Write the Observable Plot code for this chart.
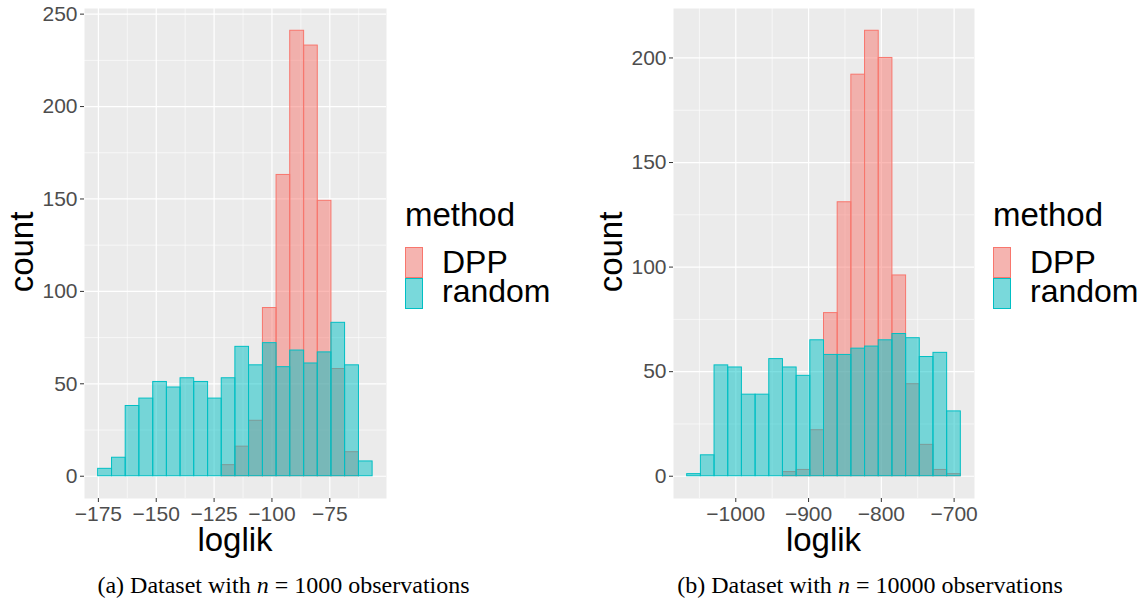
<!DOCTYPE html>
<html><head><meta charset="utf-8">
<script src="https://cdn.jsdelivr.net/npm/d3@7"></script>
<script src="https://cdn.jsdelivr.net/npm/@observablehq/plot@0.6"></script>
<style>
html,body{margin:0;padding:0;background:#fff;}
#page{position:relative;width:1148px;height:599px;overflow:hidden;font-family:"Liberation Sans",Arial,sans-serif;}
.panel{position:absolute;top:0;}
#overlay{position:absolute;left:0;top:0;}
</style></head><body><div id="page"></div>
<script>
const methods = ["DPP", "random"];
const colors = ["#F8766D", "#00BFC4"];

// (a) Dataset with n = 1000 observations
const binEdgesA = [-175.1, -169.1, -163.2, -157.3, -151.3, -145.4, -139.5, -133.6, -127.6, -121.7, -115.8, -109.9, -103.9, -98.0, -92.1, -86.1, -80.2, -74.3, -68.4, -62.4, -56.5];
const dppA = [0, 0, 0, 0, 0, 0, 0, 0, 0, 6, 16, 30, 91, 163, 241, 233, 149, 58, 13, 0];
const randomA = [4, 10, 38, 42, 51, 48, 53, 51, 42, 53, 70, 60, 72, 59, 68, 61, 67, 83, 60, 8];
const xTicksA = [-175, -150, -125, -100, -75];
const xMinorA = [-162.5, -137.5, -112.5, -87.5, -62.5];
const yTicksA = [0, 50, 100, 150, 200, 250];
const yMinorA = [25, 75, 125, 175, 225];

// (b) Dataset with n = 10000 observations
const binEdgesB = [-1066.8, -1048.0, -1029.2, -1010.4, -991.6, -972.8, -954.0, -935.2, -916.4, -897.6, -878.8, -860.0, -841.2, -822.4, -803.6, -784.8, -766.0, -747.2, -728.4, -709.6, -690.8];
const dppB = [0, 0, 0, 0, 0, 0, 0, 2, 3, 22, 78, 131, 192, 213, 200, 96, 44, 15, 3, 1];
const randomB = [1, 10, 53, 52, 39, 39, 56, 52, 48, 65, 58, 58, 61, 62, 65, 68, 66, 57, 59, 31];
const xTicksB = [-1000, -900, -800, -700];
const xMinorB = [-1050, -950, -850, -750];
const yTicksB = [0, 50, 100, 150, 200];
const yMinorB = [25, 75, 125, 175];

const captionsText = ["Dataset with", "observations"];
const xTitle = "loglik", yTitle = "count", legendTitle = "method";

const page = document.getElementById("page");
const fmt = d => d < 0 ? "\u2212" + Math.abs(d) : String(d);

function histogram(cfg) {
  const rows = (counts, m) => counts.map((c, i) => ({method: m, x1: cfg.edges[i], x2: cfg.edges[i + 1], base: 0, count: c})).filter(d => d.count > 0);
  const barOpts = (k) => ({x1: "x1", x2: "x2", y1: "base", y2: "count", fill: colors[k], fillOpacity: 0.5, stroke: colors[k], strokeWidth: 1, inset: 0});
  const plot = Plot.plot({
    width: 390, height: 530,
    marginTop: 8, marginBottom: 32, marginLeft: cfg.marginLeft, marginRight: cfg.marginRight,
    x: {domain: cfg.xDomain, label: null},
    y: {domain: cfg.yDomain, label: null},
    style: {background: "transparent", fontFamily: "'Liberation Sans', Arial, sans-serif", fontSize: "21px", color: "#4D4D4D", overflow: "visible"},
    marks: [
      Plot.frame({fill: "#EBEBEB", stroke: null}),
      Plot.ruleX(cfg.xMinor, {stroke: "#FFFFFF", strokeWidth: 0.6}),
      Plot.ruleY(cfg.yMinor, {stroke: "#FFFFFF", strokeWidth: 0.6}),
      Plot.ruleX(cfg.xTicks, {stroke: "#FFFFFF", strokeWidth: 1.2}),
      Plot.ruleY(cfg.yTicks, {stroke: "#FFFFFF", strokeWidth: 1.2}),
      Plot.rect(rows(cfg.dpp, methods[0]), barOpts(0)),
      Plot.rect(rows(cfg.random, methods[1]), barOpts(1)),
      Plot.axisX(cfg.xTicks, {tickSize: 4, tickPadding: 4, fontSize: 21, fill: "#4D4D4D", stroke: "#333333", tickFormat: fmt, label: null}),
      Plot.axisY(cfg.yTicks, {tickSize: 4, tickPadding: 3, fontSize: 21, fill: "#4D4D4D", stroke: "#333333", tickFormat: fmt, label: null})
    ]
  });
  const wrap = document.createElement("div");
  wrap.className = "panel";
  wrap.style.left = cfg.left + "px";
  wrap.appendChild(plot);
  page.appendChild(wrap);
}

histogram({left: 0, marginLeft: 84, marginRight: 4, edges: binEdgesA, dpp: dppA, random: randomA,
  xDomain: [-181.0, -50.5], yDomain: [-12.05, 253.05], xTicks: xTicksA, xMinor: xMinorA, yTicks: yTicksA, yMinor: yMinorA});
histogram({left: 590, marginLeft: 83, marginRight: 6, edges: binEdgesB, dpp: dppB, random: randomB,
  xDomain: [-1085.6, -672.0], yDomain: [-10.65, 223.65], xTicks: xTicksB, xMinor: xMinorB, yTicks: yTicksB, yMinor: yMinorB});

// titles, legends, captions
const svg = d3.select(page).append("svg").attr("id", "overlay").attr("width", 1148).attr("height", 599)
  .style("font-family", "'Liberation Sans', Arial, sans-serif");

function decorate(o) {
  svg.append("text").attr("transform", `translate(${o.countX},252) rotate(-90)`).attr("text-anchor", "middle")
    .attr("font-size", 33).attr("fill", "#000").text(yTitle);
  svg.append("text").attr("x", o.loglikX).attr("y", 551).attr("text-anchor", "middle")
    .attr("font-size", 33).attr("fill", "#000").text(xTitle);
  svg.append("text").attr("x", o.legX).attr("y", 226).attr("font-size", 33).attr("fill", "#000").text(legendTitle);
  const keyY = [247, 278];
  methods.forEach((m, i) => {
    svg.append("rect").attr("x", o.legX).attr("y", keyY[i]).attr("width", 18).attr("height", 31).attr("fill", "#F2F2F2");
    svg.append("rect").attr("x", o.legX + 0.5).attr("y", keyY[i] + 0.5).attr("width", 17).attr("height", 30)
      .attr("fill", colors[i]).attr("fill-opacity", 0.5).attr("stroke", colors[i]).attr("stroke-width", 1);
  });
  svg.append("text").attr("x", o.legX + 37).attr("y", 273.3).attr("font-size", 32).attr("fill", "#000").text(methods[0]);
  svg.append("text").attr("x", o.legX + 37).attr("y", 301.7).attr("font-size", 32).attr("fill", "#000").text(methods[1]);
  const cap = svg.append("text").attr("x", o.capX).attr("y", 593).attr("text-anchor", "middle")
    .attr("font-family", "'Liberation Serif', 'Times New Roman', serif").attr("font-size", 24).attr("fill", "#000");
  cap.append("tspan").text(`(${o.letter}) ${captionsText[0]} `);
  cap.append("tspan").attr("font-style", "italic").text("n");
  cap.append("tspan").text(` = ${o.n} ${captionsText[1]}`);
}
decorate({countX: 33, loglikX: 235, legX: 405, capX: 283.5, letter: "a", n: 1000});
decorate({countX: 622, loglikX: 823.5, legX: 993, capX: 870, letter: "b", n: 10000});
</script></body></html>
